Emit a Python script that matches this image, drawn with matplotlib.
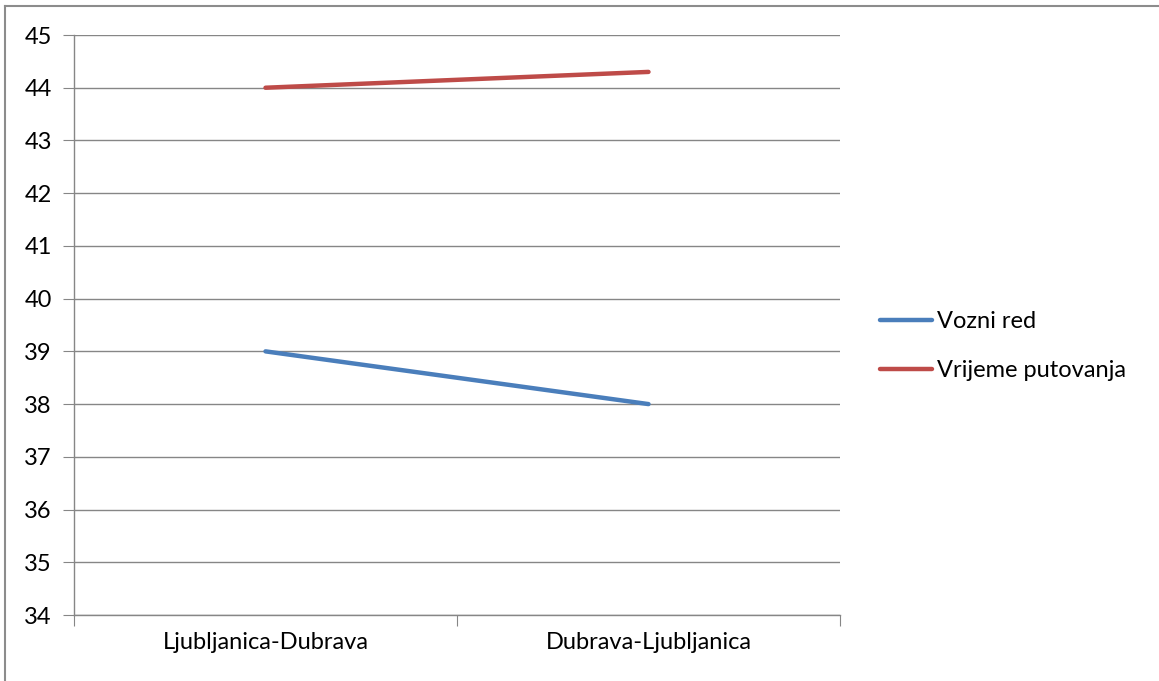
import matplotlib.pyplot as plt
from matplotlib.lines import Line2D

plt.rcParams['font.family'] = ['Lato', 'DejaVu Sans']

routes = ['Ljubljanica-Dubrava', 'Dubrava-Ljubljanica']
vozni_red = [39, 38]
vrijeme_putovanja = [44, 44.3]

fig = plt.figure(figsize=(11.59, 6.81), dpi=100)
ax = fig.add_axes([74/1159, 1-615/681, 766/1159, 580/681])

x = [0.5, 1.5]
ax.plot(x, vozni_red, color='#4A7EBB', linewidth=3.2, solid_capstyle='round', label='Vozni red')
ax.plot(x, vrijeme_putovanja, color='#BE4B48', linewidth=3.2, solid_capstyle='round', label='Vrijeme putovanja')

ax.set_xlim(0, 2)
ax.set_ylim(34, 45)
ax.set_yticks(range(34, 46))
ax.set_xticks([0, 1, 2])
ax.set_xticklabels([])
ax.set_xticks(x, minor=True)
ax.set_xticklabels(routes, minor=True)
ax.tick_params(axis='x', which='minor', length=0, pad=12, labelsize=17)
ax.tick_params(axis='x', which='major', length=8, color='#868686', direction='out')
ax.tick_params(axis='y', length=8, color='#868686', labelsize=17, pad=8)
ax.grid(axis='y', color='#868686', linewidth=1)
ax.set_axisbelow(True)
for s in ['top', 'right']:
    ax.spines[s].set_visible(False)
for s in ['left', 'bottom']:
    ax.spines[s].set_color('#868686')
    ax.spines[s].set_linewidth(1)

leg = fig.legend(loc='center left', bbox_to_anchor=(859/1159, 1-346/681), frameon=False,
                 fontsize=17, handlelength=2.2, handletextpad=0.2, labelspacing=1.2)

# outer chart border
fig.add_artist(Line2D([5/1159, 5/1159], [-0.1, 1-6/681], color='#8c8c8c', linewidth=1.5))
fig.add_artist(Line2D([5/1159, 1.1], [1-6/681, 1-6/681], color='#8c8c8c', linewidth=1.5))

fig.savefig('out.png', dpi=100)
